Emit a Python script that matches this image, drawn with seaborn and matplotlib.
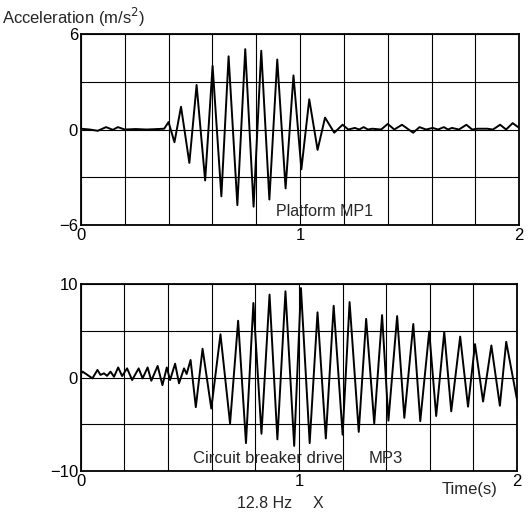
import numpy as np
import pandas as pd
import seaborn as sns
from matplotlib import pyplot as plt

# Platform MP1 - turning points
mp1_time = [0.00, 0.04, 0.077, 0.115, 0.146, 0.169, 0.20, 0.25, 0.30, 0.35, 0.38,
            0.40, 0.427, 0.457, 0.495, 0.528, 0.567, 0.601, 0.641, 0.674, 0.714,
            0.75, 0.788, 0.823, 0.86, 0.896, 0.934, 0.97, 1.006, 1.042, 1.08,
            1.114, 1.156, 1.194, 1.22, 1.25, 1.27, 1.29, 1.31, 1.33, 1.37, 1.40,
            1.43, 1.465, 1.516, 1.545, 1.575, 1.605, 1.63, 1.656, 1.675, 1.693,
            1.725, 1.759, 1.785, 1.81, 1.854, 1.88, 1.913, 1.94, 1.97, 2.0]
mp1_acc = [0.05, 0.0, -0.08, 0.15, -0.02, 0.15, 0.0, 0.03, 0.0, 0.03, 0.05,
           0.47, -0.8, 1.43, -2.1, 2.8, -3.2, 4.0, -4.2, 4.6, -4.75,
           5.05, -4.85, 4.95, -4.4, 4.4, -3.7, 3.4, -2.5, 1.9, -1.28,
           0.75, -0.2, 0.3, 0.0, 0.1, 0.0, 0.15, 0.0, 0.05, 0.0, 0.35,
           0.0, 0.3, -0.2, 0.15, 0.0, 0.1, 0.0, 0.15, 0.0, 0.1,
           0.0, 0.3, 0.0, 0.05, 0.05, 0.0, 0.3, 0.0, 0.4, 0.1]

# Circuit breaker drive MP3
mp3_time = [0.0, 0.008, 0.03, 0.053, 0.076, 0.09, 0.106, 0.12, 0.136, 0.152,
            0.171, 0.189, 0.212, 0.235, 0.265, 0.283, 0.306, 0.323, 0.352, 0.374,
            0.394, 0.409, 0.432, 0.45, 0.473, 0.485, 0.503, 0.527, 0.558, 0.598,
            0.64, 0.684, 0.721, 0.757, 0.791, 0.828, 0.865, 0.901, 0.938, 0.978,
            1.009, 1.049, 1.085, 1.123, 1.159, 1.2, 1.232, 1.274, 1.308, 1.345,
            1.381, 1.41, 1.45, 1.483, 1.524, 1.556, 1.597, 1.629, 1.666, 1.698,
            1.739, 1.775, 1.807, 1.844, 1.882, 1.921, 1.95, 2.0]
mp3_acc = [0.4, 0.65, 0.3, -0.07, 0.83, 0.3, 0.47, 0.2, 0.65, 0.1,
           1.1, 0.18, 1.0, -0.25, 1.0, -0.07, 1.1, -0.32, 1.26, -0.8,
           1.1, -0.25, 1.5, -0.6, 1.0, 0.4, 1.9, -3.15, 3.1, -3.3,
           4.65, -4.9, 6.1, -7.0, 8.0, -6.0, 8.9, -6.6, 9.25, -7.3,
           9.6, -7.0, 7.0, -6.5, 7.7, -6.1, 8.1, -5.8, 6.3, -4.9,
           6.7, -4.6, 6.6, -4.3, 5.75, -4.65, 4.95, -4.1, 4.9, -3.6,
           4.4, -3.1, 3.6, -2.55, 3.45, -3.0, 3.85, -2.4]

xgrid = np.arange(0, 2.01, 0.2)
xlabels = ['0', '', '', '', '', '1', '', '', '', '', '2']

sns.set_theme(style="white")
plt.rcParams['font.family'] = ['Liberation Sans', 'DejaVu Sans']

fig = plt.figure(figsize=(5.32, 5.16), dpi=100)
ax1 = fig.add_axes([0.152, 0.564, 0.824, 0.37])
ax2 = fig.add_axes([0.152, 0.087, 0.820, 0.362])

df1 = pd.DataFrame({'t': mp1_time, 'a': mp1_acc})
df2 = pd.DataFrame({'t': mp3_time, 'a': mp3_acc})

sns.lineplot(data=df1, x='t', y='a', ax=ax1, color='black', lw=1.4,
             sort=False, estimator=None, solid_joinstyle='round')
sns.lineplot(data=df2, x='t', y='a', ax=ax2, color='black', lw=1.4,
             sort=False, estimator=None, solid_joinstyle='round')

for ax, lim, step in [(ax1, 6, 3), (ax2, 10, 5)]:
    ax.set_xlim(0, 2)
    ax.set_ylim(-lim, lim)
    ax.set_xticks(xgrid)
    ax.set_xticklabels(xlabels)
    yt = np.arange(-lim, lim + 0.1, step)
    ax.set_yticks(yt)
    labs = []
    for v in yt:
        if v == lim or v == 0:
            labs.append(f'{int(v)}')
        elif v == -lim:
            labs.append('\u2212' + f'{lim}')
        else:
            labs.append('')
    ax.set_yticklabels(labs)
    ax.grid(True, color='black', lw=0.8)
    ax.tick_params(length=0, labelsize=12, colors='black', pad=2)
    ax.set_xlabel('')
    ax.set_ylabel('')
    for s in ax.spines.values():
        s.set_color('black')
        s.set_linewidth(1.3)

ax1.text(0.89, -5.15, 'Platform MP1', fontsize=11.5, va='center', ha='left')
ax2.text(0.515, -8.7, 'Circuit breaker drive', fontsize=12, va='center', ha='left')
ax2.text(1.32, -8.7, 'MP3', fontsize=12, va='center', ha='left')

fig.text(0.004, 0.966, 'Acceleration (m/s$^2$)', fontsize=12, va='center', ha='left')
fig.text(0.935, 0.052, 'Time(s)', fontsize=12, va='center', ha='right')
fig.text(0.445, 0.025, '12.8 Hz', fontsize=11.5, va='center', ha='left')
fig.text(0.588, 0.025, 'X', fontsize=11.5, va='center', ha='left')

fig.savefig('out.png', dpi=100)
